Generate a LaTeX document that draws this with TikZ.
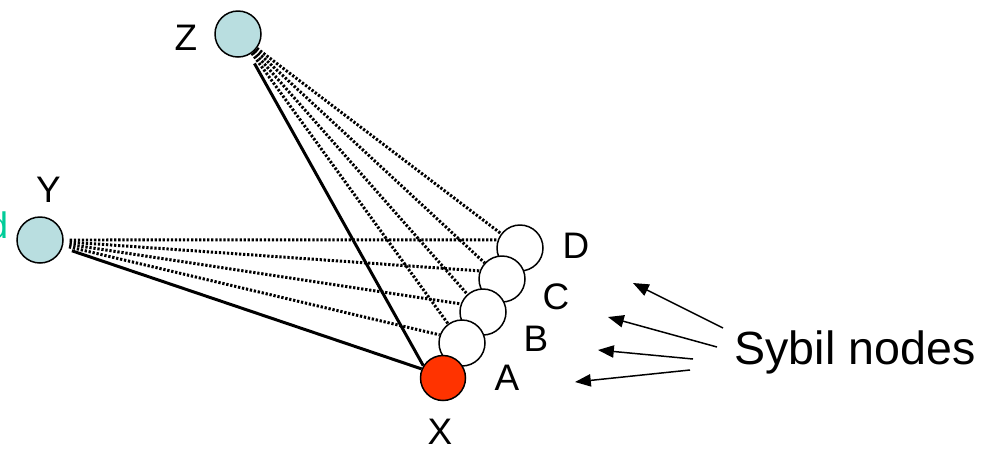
\documentclass[tikz,border=0pt]{standalone}
\usepackage{fontspec}
\setmainfont{Liberation Sans}
\usetikzlibrary{arrows.meta}
\definecolor{peerblue}{HTML}{B9DEE0}
\definecolor{attackred}{HTML}{FF3300}
\definecolor{goodgreen}{HTML}{00CC99}
\tikzset{
	peer/.style = {circle, draw, line width=0.85pt, minimum size=0.92cm, inner sep=0pt},
	lbl/.style = {font=\fontsize{21}{25}\selectfont, inner sep=0pt},
	solidedge/.style = {line width=1.7pt, shorten <=0.2cm},
	sybedge/.style = {line width=1.7pt, dash pattern=on 1.3pt off 1.0pt},
	pointer/.style = {line width=0.85pt, -{Triangle[length=9pt,width=7pt]}}
}
\begin{document}
\begin{tikzpicture}
	\useasboundingbox (0,0) rectangle (19.94,-9.02);

	% honest nodes
	\node[peer, fill=peerblue] (Z) at (4.76, -0.68) {};
	\node[peer, fill=peerblue] (Y) at (0.80, -4.80) {};
	% sybil nodes, back to front
	\node[peer, fill=white] (D) at (10.40, -4.96) {};
	\node[peer, fill=white] (C) at (10.04, -5.58) {};
	\node[peer, fill=white] (B) at (9.66, -6.24) {};
	\node[peer, fill=white] (A) at (9.24, -6.86) {};
	\node[peer, fill=attackred, minimum size=0.9cm] (X) at (8.86, -7.56) {};

	% labels
	\node[lbl] (lZ) at (3.72, -0.76) {Z};
	\node[lbl] (lY) at (0.97, -3.79) {Y};
	\node[lbl, anchor=base east, text=goodgreen] (lgood) at (0.17, -4.76) {d};
	\node[lbl] (lX) at (8.80, -8.64) {X};
	\node[lbl] (lA) at (10.14, -7.56) {A};
	\node[lbl] (lB) at (10.72, -6.78) {B};
	\node[lbl] (lC) at (11.12, -5.94) {C};
	\node[lbl] (lD) at (11.52, -4.92) {D};
	\node[font=\fontsize{26.5}{31}\selectfont, inner sep=0pt] (syb) at (17.10, -7.04) {Sybil nodes};

	% real links
	\draw[solidedge] (Z) -- (X.148);
	\draw[solidedge] (Y) -- (X.157);
	% fake links
	\foreach \s in {D, C, B, A} {
		\draw[sybedge] (Z) -- (\s);
		\draw[sybedge, shorten <=0.12cm] (Y) -- (\s.160);
	}

	% pointers
	\coordinate (t1) at (14.46, -6.56);
	\coordinate (t2) at (14.34, -6.94);
	\coordinate (t3) at (13.86, -7.18);
	\coordinate (t4) at (13.80, -7.40);
	\coordinate (h1) at (12.66, -5.66);
	\coordinate (h2) at (12.16, -6.34);
	\coordinate (h3) at (11.96, -7.00);
	\coordinate (h4) at (11.50, -7.64);
	\foreach \i in {1,...,4}
		\draw[pointer] (t\i) -- (h\i);
\end{tikzpicture}
\end{document}
